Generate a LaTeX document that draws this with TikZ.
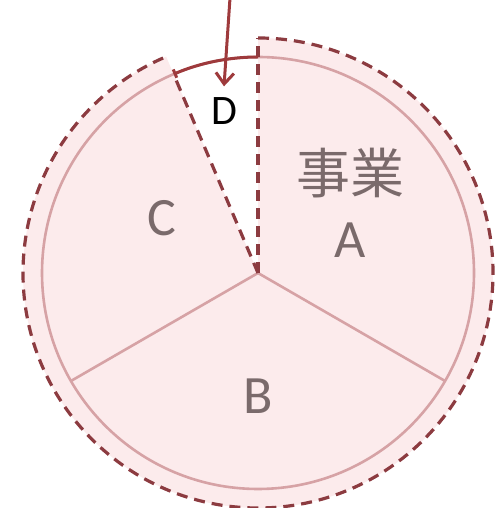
\documentclass[tikz,border=0pt]{standalone}
\usepackage{fontspec}
\usetikzlibrary{arrows.meta}
\setmainfont{Carlito}
\newfontfamily\jpfont{Noto Sans CJK JP}
\definecolor{piepink}{HTML}{FCEBEC}
\definecolor{rimline}{HTML}{D6A2A5}
\definecolor{dashred}{HTML}{8C3B40}
\definecolor{arrowred}{HTML}{9E3A3C}
\definecolor{labelgray}{HTML}{7A6A6B}
\begin{document}
\begin{tikzpicture}[x=1pt,y=1pt,>={Straight Barb[length=11pt,width=18pt]},
  rim/.style={rimline,line width=2.6pt},
  outerdash/.style={dashred,line width=3.2pt,dash pattern=on 11pt off 7pt},
  seclabel/.style={labelgray,font=\fontsize{54}{60}\selectfont}]
\useasboundingbox (0,0) rectangle (496,508);
\coordinate (c) at (258,235);
\coordinate (arrowtop) at (230,510);
% filled sectors A, B, C
\fill[piepink] (c) -- ++(90:235) arc[start angle=90,end angle=-247,radius=235] -- cycle;
\draw[rim] (c) circle (216);
\draw[rim] (c) -- ++(210:216);
\draw[rim] (c) -- ++(-30:216);
% dashed outline
\draw[outerdash] (c) ++(90:235) arc[start angle=90,end angle=-247,radius=235];
\draw[outerdash] (c) -- ++(90:235);
\draw[outerdash] (c) -- ++(113:216);
\draw[arrowred,line width=3pt,{Bar[width=9pt]}-] (c) ++(113:216) arc[start angle=113,end angle=90,radius=216];
% labels
\node[seclabel] (jigyo) at (350,335) {\jpfont 事業};
\node[seclabel] (alabel) at (350,268) {A};
\node[seclabel] (blabel) at (258,112) {B};
\node[seclabel] (clabel) at (162,290) {C};
\node[font=\fontsize{42}{48}\selectfont,inner sep=11pt] (dlabel) at (224,397) {D};
\draw[arrowred,line width=3pt,->] (arrowtop) -- (dlabel.north);
\end{tikzpicture}
\end{document}
